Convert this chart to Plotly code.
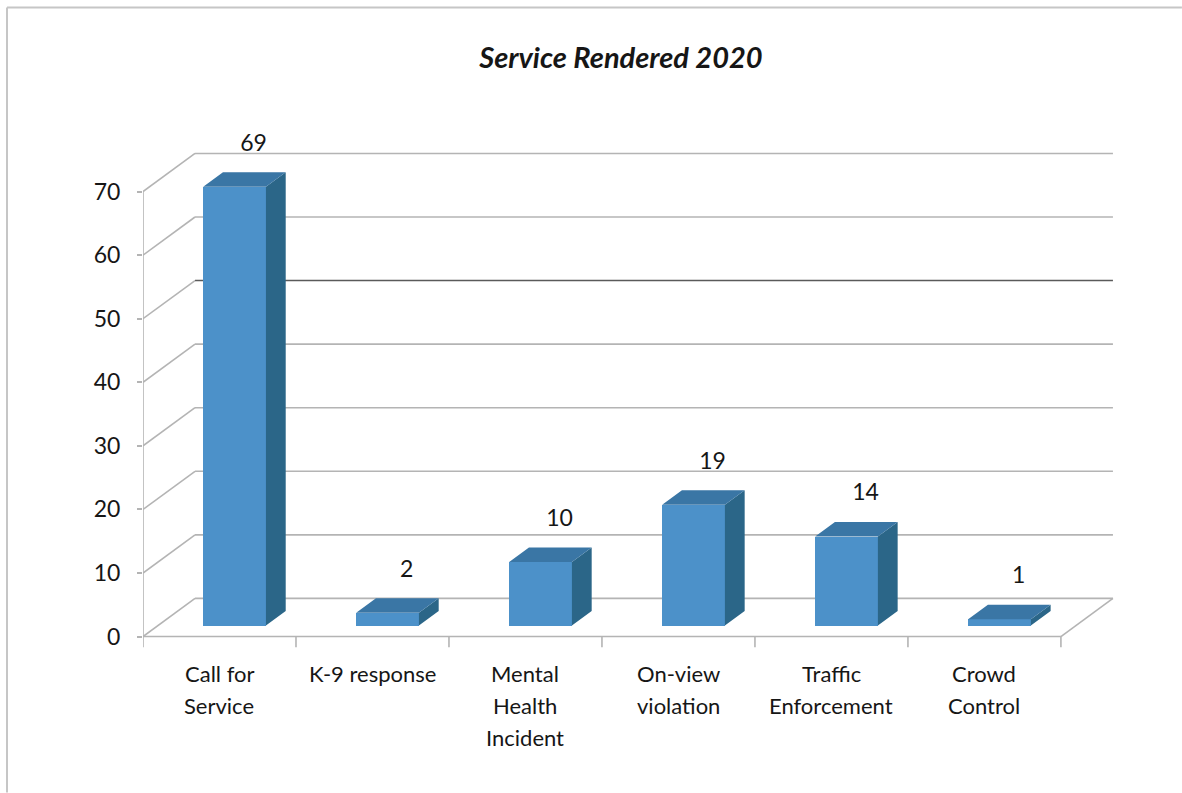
import plotly.graph_objects as go

# ---- data -------------------------------------------------------------
categories = [
    "Call for<br>Service",
    "K-9 response",
    "Mental<br>Health<br>Incident",
    "On-view<br>violation",
    "Traffic<br>Enforcement",
    "Crowd<br>Control",
]
values = [69, 2, 10, 19, 14, 1]
y_ticks = [0, 10, 20, 30, 40, 50, 60, 70]
title_text = "Service Rendered 2020"

# ---- pseudo 3-D geometry (axis units) ---------------------------------
DEPTH_X = 0.34      # horizontal shift of back wall, in category widths
DEPTH_Y = 6.0       # vertical shift of back wall, in value units
BAR_FRONT = 0.29    # depth fraction where bar front faces sit
BAR_DEPTH = 0.38    # bar depth as a fraction of the floor depth
BAR_W = 0.41        # bar width in category widths
LABEL_GAP = 4.3     # value-label gap above the bar top

FONT = "Lato"
TEXT = "#161616"
GRID = "#b4b4b4"
GRID_DARK = "#5a5a5a"
C_FRONT = "#4c91c9"
C_TOP = "#3a76a5"
C_SIDE = "#2b6688"

W, H = 1182, 793
n = len(categories)
x_lo, x_hi = -0.5, n - 0.5 + DEPTH_X + 0.02
y_lo, y_hi = -1.8, 80.0

# pixel frame of the plotting area: value 0 on the front plane at y=637,
# 6.357 px per unit; categories 153 px wide starting at x=143
PX_PER_Y = 6.357
PX_PER_X = 153.0
zero_px = 637.0
plot_bottom = zero_px - y_lo * PX_PER_Y
plot_top = zero_px - y_hi * PX_PER_Y
plot_left = 143.0
plot_right = plot_left + (x_hi - x_lo) * PX_PER_X
M = dict(l=plot_left, r=W - plot_right, t=plot_top, b=H - plot_bottom, pad=0)

fig = go.Figure()
shapes = []


def seg(x0, y0, x1, y1, color=GRID, width=1.6):
    shapes.append(dict(type="line", xref="x", yref="y", x0=x0, y0=y0, x1=x1, y1=y1,
                       line=dict(color=color, width=width), layer="below"))


# walls: back-wall gridlines and side-wall diagonals
left, right = -0.5, n - 0.5
for v in y_ticks:
    col = GRID_DARK if v == 50 else GRID
    seg(left + DEPTH_X, v + DEPTH_Y, right + DEPTH_X, v + DEPTH_Y, col)
    seg(left, v, left + DEPTH_X, v + DEPTH_Y)

# front value axis and floor edges
seg(left, 0, left, max(y_ticks))
seg(left, 0, right, 0)
seg(right, 0, right + DEPTH_X, DEPTH_Y)

# category separator ticks under the floor
for k in range(n + 1):
    seg(left + k, 0, left + k, -1.7)

# ---- bars -------------------------------------------------------------
fx = BAR_FRONT * DEPTH_X
fy = BAR_FRONT * DEPTH_Y
dx = BAR_DEPTH * DEPTH_X
dy = BAR_DEPTH * DEPTH_Y
xs = [i + fx for i in range(n)]

fig.add_trace(go.Bar(
    x=xs, y=values, base=[fy] * n, width=BAR_W,
    marker=dict(color=C_FRONT, line=dict(width=0)),
    hoverinfo="skip", showlegend=False,
))

side_x, side_y, top_x, top_y = [], [], [], []
for xc, v in zip(xs, values):
    x0, x1 = xc - BAR_W / 2, xc + BAR_W / 2
    h = fy + v
    side_x += [x1, x1, x1 + dx, x1 + dx, x1, None]
    side_y += [fy, h, h + dy, fy + dy, fy, None]
    top_x += [x0, x1, x1 + dx, x0 + dx, x0, None]
    top_y += [h, h, h + dy, h + dy, h, None]

fig.add_trace(go.Scatter(x=side_x, y=side_y, mode="lines", fill="toself",
                         fillcolor=C_SIDE, line=dict(width=0, color=C_SIDE),
                         hoverinfo="skip", showlegend=False))
fig.add_trace(go.Scatter(x=top_x, y=top_y, mode="lines", fill="toself",
                         fillcolor=C_TOP, line=dict(width=0, color=C_TOP),
                         hoverinfo="skip", showlegend=False))

# value labels above each bar
fig.add_trace(go.Scatter(
    x=[xc + dx / 2 + 0.06 for xc in xs],
    y=[fy + v + dy + LABEL_GAP for v in values],
    mode="text", text=[str(v) for v in values], textposition="middle center",
    textfont=dict(family=FONT, size=23, color=TEXT),
    cliponaxis=False, hoverinfo="skip", showlegend=False,
))

# category labels, one annotation per line for even line spacing
annotations = []
for i, lab in enumerate(categories):
    for k, line in enumerate(lab.split("<br>")):
        annotations.append(dict(
            x=i, y=0, xref="x", yref="y", text=line, showarrow=False,
            xanchor="center", yanchor="middle", yshift=-(37 + 32 * k),
            font=dict(family=FONT, size=22, color=TEXT),
        ))

# light frame around the chart area
pw = W - M["l"] - M["r"]
ph = H - M["t"] - M["b"]


def px(xp):
    return (xp - M["l"]) / pw


def py(yp):
    return 1 - (yp - M["t"]) / ph


shapes.append(dict(type="line", xref="paper", yref="paper",
                   x0=px(7), y0=py(8), x1=px(W), y1=py(8),
                   line=dict(color="#c6c6c6", width=2)))
shapes.append(dict(type="line", xref="paper", yref="paper",
                   x0=px(7), y0=py(8), x1=px(7), y1=py(H),
                   line=dict(color="#c6c6c6", width=2)))

fig.update_layout(
    width=W, height=H, margin=M, autosize=False,
    paper_bgcolor="white", plot_bgcolor="white",
    title=dict(text=title_text, x=621 / W, xanchor="center",
               y=1 - 58 / H, yanchor="middle",
               font=dict(family=FONT, size=29, color=TEXT,
                         weight="bold", style="italic")),
    xaxis=dict(range=[x_lo, x_hi], showgrid=False, zeroline=False,
               showline=False, showticklabels=False, ticks="", fixedrange=True),
    yaxis=dict(range=[y_lo, y_hi], tickvals=y_ticks, showgrid=False,
               zeroline=False, showline=False, ticks="outside", ticklen=5,
               tickcolor=GRID, tickwidth=1.6, ticklabelstandoff=12,
               tickfont=dict(family=FONT, size=23, color=TEXT),
               fixedrange=True),
    shapes=shapes, annotations=annotations, bargap=0,
    showlegend=False,
)

fig.write_html("out.html")
